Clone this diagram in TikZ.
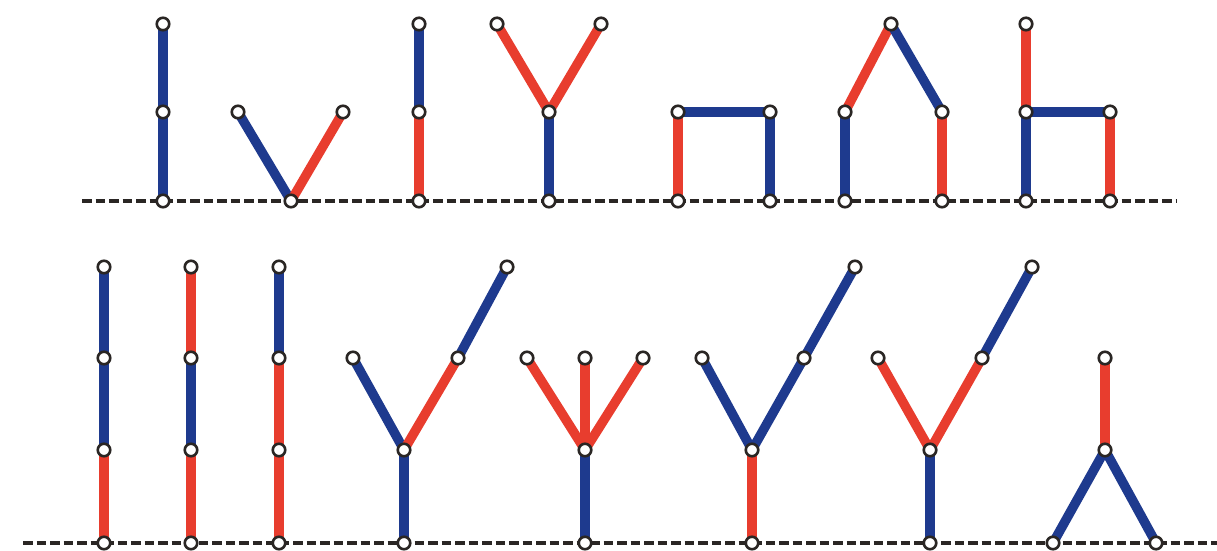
\documentclass[tikz,border=0pt]{standalone}
\usepackage{tikz}
\usetikzlibrary{backgrounds}
\definecolor{HBBlue}{HTML}{1E3A8E}
\definecolor{HBRed}{HTML}{E83D2E}
\definecolor{HBInk}{HTML}{2A2624}
\begin{document}
\begin{tikzpicture}[x=0.2mm,y=-0.2mm,
        pt/.style={circle,draw=HBInk,fill=white,line width=1.5pt,minimum size=2.5mm,inner sep=0pt},
        bl/.style={line width=5.4pt,color=HBBlue},
        rd/.style={line width=5.4pt,color=HBRed},
        gnd/.style={line width=2.2pt,color=HBInk,dash pattern=on 1.9mm off 0.8mm}]
        \useasboundingbox (0,0) rectangle (1217,551);
        % top row
        \coordinate (gl1) at (82,201); \coordinate (gr1) at (1177,201);
        \node[pt] (a1) at (163,24) {}; \node[pt] (a2) at (163,112) {}; \node[pt] (a3) at (163,201) {};
        \node[pt] (b0) at (291,201) {}; \node[pt] (b1) at (238,112) {}; \node[pt] (b2) at (343,112) {};
        \node[pt] (c1) at (419,24) {}; \node[pt] (c2) at (419,112) {}; \node[pt] (c3) at (419,201) {};
        \node[pt] (d0) at (549,201) {}; \node[pt] (d1) at (549,112) {}; \node[pt] (d2) at (497,24) {}; \node[pt] (d3) at (601,24) {};
        \node[pt] (e0) at (678,201) {}; \node[pt] (e1) at (678,112) {}; \node[pt] (e2) at (770,112) {}; \node[pt] (e3) at (770,201) {};
        \node[pt] (f0) at (845,201) {}; \node[pt] (f1) at (845,112) {}; \node[pt] (f2) at (891,24) {}; \node[pt] (f3) at (942,112) {}; \node[pt] (f4) at (942,201) {};
        \node[pt] (g0) at (1026,201) {}; \node[pt] (g1) at (1026,112) {}; \node[pt] (g2) at (1026,24) {}; \node[pt] (g3) at (1110,112) {}; \node[pt] (g4) at (1110,201) {};
        % bottom row
        \coordinate (gl2) at (23,543); \coordinate (gr2) at (1217,543);
        \node[pt] (h0) at (104,543) {}; \node[pt] (h1) at (104,450) {}; \node[pt] (h2) at (104,358) {}; \node[pt] (h3) at (104,267) {};
        \node[pt] (i0) at (191,543) {}; \node[pt] (i1) at (191,450) {}; \node[pt] (i2) at (191,358) {}; \node[pt] (i3) at (191,267) {};
        \node[pt] (j0) at (279,543) {}; \node[pt] (j1) at (279,450) {}; \node[pt] (j2) at (279,358) {}; \node[pt] (j3) at (279,267) {};
        \node[pt] (k0) at (404,543) {}; \node[pt] (k1) at (404,450) {}; \node[pt] (k2) at (353,358) {}; \node[pt] (k3) at (458,358) {}; \node[pt] (k4) at (507,267) {};
        \node[pt] (l0) at (585,543) {}; \node[pt] (l1) at (585,450) {}; \node[pt] (l2) at (527,358) {}; \node[pt] (l3) at (585,358) {}; \node[pt] (l4) at (643,358) {};
        \node[pt] (m0) at (752,543) {}; \node[pt] (m1) at (752,450) {}; \node[pt] (m2) at (702,358) {}; \node[pt] (m3) at (804,358) {}; \node[pt] (m4) at (855,267) {};
        \node[pt] (n0) at (930,543) {}; \node[pt] (n1) at (930,450) {}; \node[pt] (n2) at (878,358) {}; \node[pt] (n3) at (982,358) {}; \node[pt] (n4) at (1032,267) {};
        \node[pt] (o0) at (1053,543) {}; \node[pt] (o1) at (1156,543) {}; \node[pt] (o2) at (1105,450) {}; \node[pt] (o3) at (1105,358) {};
        \begin{scope}[on background layer]
        \draw[gnd] (gl1)--(gr1); \draw[gnd] (gl2)--(gr2);
        \draw[bl] (a3.center)--(a2.center); \draw[bl] (a2.center)--(a1.center);
        \draw[bl] (b0.center)--(b1.center); \draw[rd] (b0.center)--(b2.center);
        \draw[rd] (c3.center)--(c2.center); \draw[bl] (c2.center)--(c1.center);
        \draw[bl] (d0.center)--(d1.center); \draw[rd] (d1.center)--(d2.center); \draw[rd] (d1.center)--(d3.center);
        \draw[rd] (e0.center)--(e1.center); \draw[bl] (e1.center)--(e2.center); \draw[bl] (e2.center)--(e3.center);
        \draw[bl] (f0.center)--(f1.center); \draw[rd] (f1.center)--(f2.center); \draw[bl] (f2.center)--(f3.center); \draw[rd] (f3.center)--(f4.center);
        \draw[bl] (g0.center)--(g1.center); \draw[rd] (g1.center)--(g2.center); \draw[bl] (g1.center)--(g3.center); \draw[rd] (g3.center)--(g4.center);
        \draw[rd] (h0.center)--(h1.center); \draw[bl] (h1.center)--(h2.center); \draw[bl] (h2.center)--(h3.center);
        \draw[rd] (i0.center)--(i1.center); \draw[bl] (i1.center)--(i2.center); \draw[rd] (i2.center)--(i3.center);
        \draw[rd] (j0.center)--(j1.center); \draw[rd] (j1.center)--(j2.center); \draw[bl] (j2.center)--(j3.center);
        \draw[bl] (k0.center)--(k1.center); \draw[bl] (k1.center)--(k2.center); \draw[rd] (k1.center)--(k3.center); \draw[bl] (k3.center)--(k4.center);
        \draw[bl] (l0.center)--(l1.center); \draw[rd] (l1.center)--(l2.center); \draw[rd] (l1.center)--(l3.center); \draw[rd] (l1.center)--(l4.center);
        \draw[rd] (m0.center)--(m1.center); \draw[bl] (m1.center)--(m2.center); \draw[bl] (m1.center)--(m3.center); \draw[bl] (m3.center)--(m4.center);
        \draw[bl] (n0.center)--(n1.center); \draw[rd] (n1.center)--(n2.center); \draw[rd] (n1.center)--(n3.center); \draw[bl] (n3.center)--(n4.center);
        \draw[bl] (o0.center)--(o2.center); \draw[bl] (o1.center)--(o2.center); \draw[rd] (o2.center)--(o3.center);
        \end{scope}
      \end{tikzpicture}
\end{document}
